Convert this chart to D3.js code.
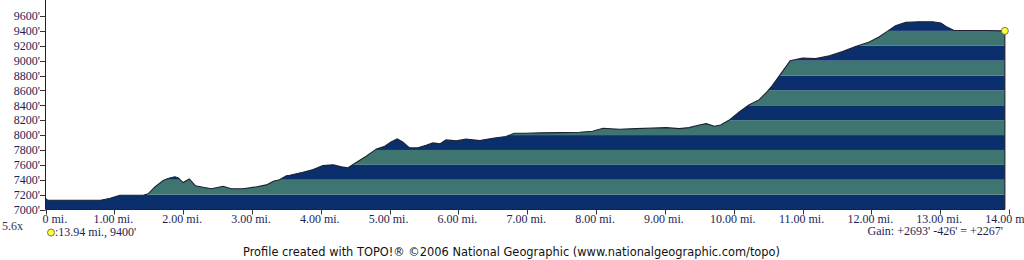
<!DOCTYPE html>
<html>
<head>
<meta charset="utf-8">
<script src="https://cdn.jsdelivr.net/npm/d3@7"></script>
<style>
  html, body { margin: 0; padding: 0; background: #fff; }
  svg { display: block; }
</style>
</head>
<body>
<svg id="chart" width="1024" height="260"></svg>
<script>
// ---- data ----
const miles = [0.00,0.03,0.80,0.94,1.08,1.42,1.49,1.59,1.71,1.78,1.88,1.93,2.00,2.09,2.18,2.29,2.41,2.58,2.70,2.87,
  3.07,3.21,3.31,3.40,3.50,3.55,3.74,3.89,4.03,4.18,4.30,4.39,4.52,4.66,4.81,4.93,5.02,5.11,5.19,5.29,
  5.41,5.53,5.63,5.73,5.82,5.97,6.11,6.31,6.50,6.69,6.81,6.98,7.18,7.47,7.76,7.95,8.10,8.34,8.58,8.82,
  9.02,9.21,9.35,9.50,9.60,9.72,9.81,9.93,10.08,10.22,10.37,10.49,10.56,10.71,10.82,11.00,11.19,11.39,11.58,11.77,
  11.97,12.11,12.23,12.35,12.50,12.69,12.89,13.01,13.10,13.20,13.37,13.66,13.94];
const elevations = [7148,7125,7125,7152,7192,7192,7210,7305,7389,7416,7439,7422,7362,7411,7318,7300,7278,7313,7278,7278,
  7305,7331,7380,7400,7452,7461,7501,7537,7590,7600,7573,7559,7635,7715,7814,7850,7908,7948,7908,7828,
  7828,7863,7895,7882,7935,7922,7948,7926,7957,7980,8024,8024,8029,8033,8038,8051,8091,8078,8087,8096,
  8100,8087,8100,8136,8154,8118,8136,8198,8311,8405,8476,8588,8664,8856,9000,9036,9027,9067,9124,9191,
  9250,9317,9393,9469,9514,9523,9523,9505,9451,9406,9406,9406,9400];
const yTicks = [7000,7200,7400,7600,7800,8000,8200,8400,8600,8800,9000,9200,9400,9600];
const xTicks = [0,1,2,3,4,5,6,7,8,9,10,11,12,13,14];
const xTickLabels = ["0 mi.","1.00 mi.","2.00 mi.","3.00 mi.","4.00 mi.","5.00 mi.","6.00 mi.","7.00 mi.","8.00 mi.","9.00 mi.","10.00 mi.","11.00 mi.","12.00 mi.","13.00 mi.","14.00 mi."];
const bandStep = 200;
const scaleText = "5.6x";
const cursorText = ":13.94 mi., 9400'";
const gainText = "Gain: +2693' -426' = +2267'";
const footerText = "Profile created with TOPO!\u00AE \u00A92006 National Geographic (www.nationalgeographic.com/topo)";

// ---- drawing ----
const svg = d3.select("#chart");
const x = d3.scaleLinear().domain([0, 14]).range([45.5, 1009]);
const y = d3.scaleLinear().domain([7000, 9600]).range([209.5, 16]);
const data = miles.map((m, i) => ({m, e: elevations[i]}));

const navy = "#0b2f6c", teal = "#3e7570", lineCol = "#1c2230", textCol = "#1e1e55";

svg.append("rect").attr("width", 1024).attr("height", 260).attr("fill", "#fff");

const area = d3.area().x(d => x(d.m)).y0(y(7000)).y1(d => y(d.e));
svg.append("clipPath").attr("id", "clip").append("path").datum(data).attr("d", area);

const bands = d3.range(7000, 9800, bandStep);
svg.append("g").attr("clip-path", "url(#clip)")
  .selectAll("rect").data(bands).join("rect")
  .attr("x", x(0)).attr("width", x(14) - x(0))
  .attr("y", d => y(d + bandStep)).attr("height", d => y(d) - y(d + bandStep))
  .attr("fill", (d, i) => i % 2 === 0 ? navy : teal);

// outline
const last = data[data.length - 1];
const line = d3.line().x(d => x(d.m)).y(d => y(d.e));
svg.append("path").datum(data.concat([{m: last.m, e: 7000}]))
  .attr("d", line).attr("fill", "none").attr("stroke", lineCol).attr("stroke-width", 1.1);

// axes
svg.append("line").attr("x1", x(0)).attr("x2", x(0)).attr("y1", 0).attr("y2", y(7000))
  .attr("stroke", "#222").attr("stroke-width", 1);
svg.append("line").attr("x1", x(0)).attr("x2", x(last.m)).attr("y1", y(7000)).attr("y2", y(7000))
  .attr("stroke", "#222").attr("stroke-width", 1);

const gy = svg.append("g");
gy.selectAll("line").data(yTicks).join("line")
  .attr("x1", 40).attr("x2", x(0)).attr("y1", d => Math.round(y(d)) + 0.5).attr("y2", d => Math.round(y(d)) + 0.5)
  .attr("stroke", "#333");
gy.selectAll("text").data(yTicks).join("text")
  .attr("x", 40).attr("y", d => y(d)).attr("dy", "0.35em")
  .attr("text-anchor", "end")
  .attr("font-family", "Liberation Serif, serif").attr("font-size", 12).attr("fill", textCol)
  .text(d => d + "'");

const gx = svg.append("g");
gx.selectAll("line").data(xTicks).join("line")
  .attr("x1", d => Math.round(x(d)) + 0.5).attr("x2", d => Math.round(x(d)) + 0.5)
  .attr("y1", y(7000)).attr("y2", y(7000) + 5).attr("stroke", "#333");
gx.selectAll("text").data(xTicks).join("text")
  .attr("x", d => d === 0 ? x(d) - 3 : x(d) - 1).attr("y", 223)
  .attr("text-anchor", d => d === 0 ? "start" : "middle")
  .attr("font-family", "Liberation Serif, serif").attr("font-size", 12).attr("fill", textCol)
  .text((d, i) => xTickLabels[i]);

// end marker
svg.append("circle").attr("cx", x(last.m)).attr("cy", y(last.e)).attr("r", 3.5)
  .attr("fill", "#ffff33").attr("stroke", "#555").attr("stroke-width", 0.8);

// bottom texts
svg.append("text").attr("x", 2).attr("y", 230)
  .attr("font-family", "Liberation Serif, serif").attr("font-size", 12).attr("fill", "#333355")
  .text(scaleText);
svg.append("circle").attr("cx", 51).attr("cy", 232.5).attr("r", 3.5)
  .attr("fill", "#ffff33").attr("stroke", "#555").attr("stroke-width", 0.8);
svg.append("text").attr("x", 55).attr("y", 236)
  .attr("font-family", "Liberation Serif, serif").attr("font-size", 12).attr("fill", textCol)
  .text(cursorText);
svg.append("text").attr("x", 1003).attr("y", 235).attr("text-anchor", "end")
  .attr("font-family", "Liberation Serif, serif").attr("font-size", 12).attr("fill", textCol)
  .text(gainText);
svg.append("text").attr("x", 243).attr("y", 256)
  .attr("textLength", 537).attr("lengthAdjust", "spacingAndGlyphs")
  .attr("font-family", "DejaVu Sans, sans-serif").attr("font-size", 11.5).attr("fill", "#111")
  .text(footerText);
</script>
</body>
</html>
